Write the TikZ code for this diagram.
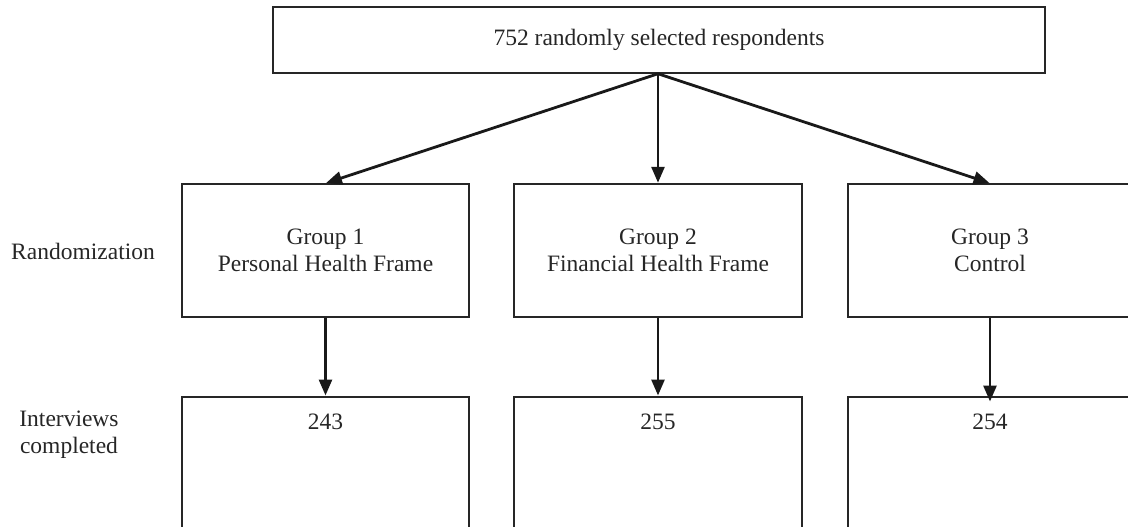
\documentclass[tikz,border=0pt]{standalone}
\usepackage{fontspec}
\setmainfont{Liberation Serif}
\usetikzlibrary{arrows.meta}
\begin{document}
\begin{tikzpicture}[x=1pt,y=-1pt,
    box/.style={draw=black!85, line width=1.5pt, rectangle, inner sep=0pt},
    txt/.style={font=\fontsize{23.5}{27}\selectfont, align=center, text=black!85, inner sep=0pt},
    flow/.style={line width=2.8pt, draw=black!90, -{Triangle[length=16pt,width=13pt]}, shorten >=0.5pt}]
  \useasboundingbox (0,0) rectangle (1128,527);
  \clip (0,0) rectangle (1128,527);

  % source box
  \node[box, minimum width=772pt, minimum height=66pt] (top) at (659,40) {};
  \node[txt] (toptxt) at (top.center) {752 randomly selected respondents};

  % randomized groups
  \node[box, minimum width=287pt, minimum height=133pt] (g1) at (325.5,250.5) {};
  \node[box, minimum width=288pt, minimum height=133pt] (g2) at (658,250.5) {};
  \node[box, minimum width=284pt, minimum height=133pt] (g3) at (990,250.5) {};
  \node[txt] (g1txt) at (g1.center) {Group 1\\Personal Health Frame};
  \node[txt] (g2txt) at (g2.center) {Group 2\\Financial Health Frame};
  \node[txt] (g3txt) at (g3.center) {Group 3\\Control};

  % completed interviews
  \node[box, minimum width=287pt, minimum height=150pt, anchor=north] (c1) at (325.5,396) {};
  \node[box, minimum width=288pt, minimum height=150pt, anchor=north] (c2) at (658,396) {};
  \node[box, minimum width=284pt, minimum height=150pt, anchor=north] (c3) at (990,396) {};
  \node[txt] (c1txt) at ([yshift=-26pt]c1.north) {243};
  \node[txt] (c2txt) at ([yshift=-26pt]c2.north) {255};
  \node[txt] (c3txt) at ([yshift=-26pt]c3.north) {254};

  % row labels
  \node[txt] (rowrand) at (83,251) {Randomization};
  \node[txt] (rowint) at (69,435) {Interviews\\completed};

  % connectors
  \coordinate (src) at (top.south -| g2.north);
  \draw[flow] (src) -- (g1.north);
  \draw[flow] (src) -- (g2.north);
  \draw[flow] (src) -- (g3.north);
  \draw[flow] (g1.south) -- (c1.north);
  \draw[flow] (g2.south) -- (c2.north);
  \draw[flow] (g3.south) -- ([yshift=-6pt]c3.north);
\end{tikzpicture}
\end{document}
